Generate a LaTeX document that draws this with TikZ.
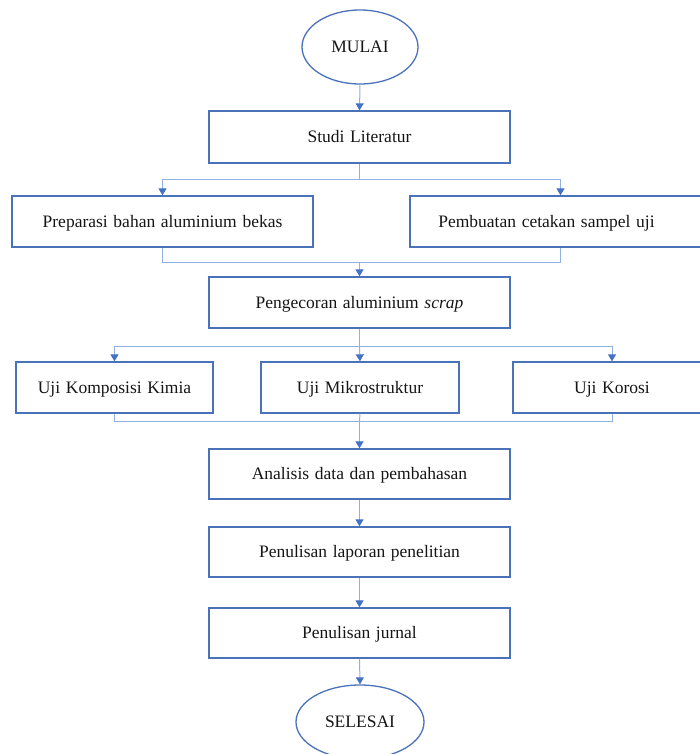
\documentclass[tikz,border=0pt]{standalone}
\usepackage{fontspec}
\setmainfont[WordSpace=1.3]{Liberation Serif}
\usetikzlibrary{arrows.meta,shapes.geometric}
\definecolor{boxblue}{HTML}{4A72B8}
\definecolor{lineblue}{HTML}{8FB0E0}
\definecolor{tipblue}{HTML}{4472C4}
\definecolor{txt}{HTML}{151515}
\tikzset{
  procbox/.style={draw=boxblue, line width=1.3pt, rectangle, minimum height=51pt, inner sep=0pt, text=txt, text height=13pt, text depth=2pt, font=\fontsize{17.5}{20}\selectfont},
  termbox/.style={draw=boxblue, line width=1.3pt, ellipse, inner sep=0pt, text=txt, text height=13pt, text depth=2pt, font=\fontsize{17.5}{20}\selectfont},
  conn/.style={draw=lineblue, line width=1pt},
  arr/.style={conn, -{Triangle[width=8pt,length=7pt,color=tipblue]}}
}
\begin{document}
\begin{tikzpicture}[x=1pt,y=-1pt]
\useasboundingbox (0,0) rectangle (700,754);
\node[termbox, minimum width=116pt, minimum height=74pt] (mulai) at (360,47) {MULAI};
\node[procbox, minimum width=301pt, minimum height=52pt] (studi) at (359.5,137) {Studi Literatur};
\node[procbox, minimum width=301pt] (prep) at (162.5,221.5) {Preparasi bahan aluminium bekas};
\node[procbox, minimum width=301pt] (pemb) at (560.5,221.5) {Pembuatan cetakan sampel uji\hspace*{28pt}};
\node[procbox, minimum width=301pt] (peng) at (359.5,302.5) {Pengecoran aluminium \textit{scrap}};
\node[procbox, minimum width=197pt] (komp) at (114.5,387.5) {Uji Komposisi Kimia};
\node[procbox, minimum width=198pt] (mikro) at (360,387.5) {Uji Mikrostruktur};
\node[procbox, minimum width=198pt] (koro) at (612,387.5) {Uji Korosi};
\node[procbox, minimum width=301pt, minimum height=50pt] (ana) at (359.5,474) {Analisis data dan pembahasan};
\node[procbox, minimum width=301pt, minimum height=50pt] (lap) at (359.5,552) {Penulisan laporan penelitian};
\node[procbox, minimum width=301pt, minimum height=50pt] (jur) at (359.5,633) {Penulisan jurnal};
\node[termbox, minimum width=128pt, minimum height=74pt] (sel) at (360,722) {SELESAI};

\draw[arr] (mulai.south) -- (studi.north);

\coordinate (b1) at (studi.south |- 0,179);
\draw[conn] (studi.south) -- (b1);
\draw[arr] (b1) -| (prep.north);
\draw[arr] (b1) -| (pemb.north);

\coordinate (m1) at (peng.north |- 0,262);
\draw[conn] (prep.south) |- (m1);
\draw[conn] (pemb.south) |- (m1);
\draw[arr] (m1) -- (peng.north);

\coordinate (b2) at (peng.south |- 0,346);
\draw[conn] (peng.south) -- (b2);
\draw[arr] (b2) -| (komp.north);
\draw[arr] (b2) -- (mikro.north);
\draw[arr] (b2) -| (koro.north);

\coordinate (m2) at (ana.north |- 0,421);
\draw[conn] (komp.south) |- (m2);
\draw[conn] (koro.south) |- (m2);
\draw[conn] (mikro.south) -- (m2);
\draw[arr] (m2) -- (ana.north);

\draw[arr] (ana.south) -- (lap.north);
\draw[arr] (lap.south) -- (jur.north);
\draw[arr] (jur.south) -- (sel.north);
\end{tikzpicture}
\end{document}
